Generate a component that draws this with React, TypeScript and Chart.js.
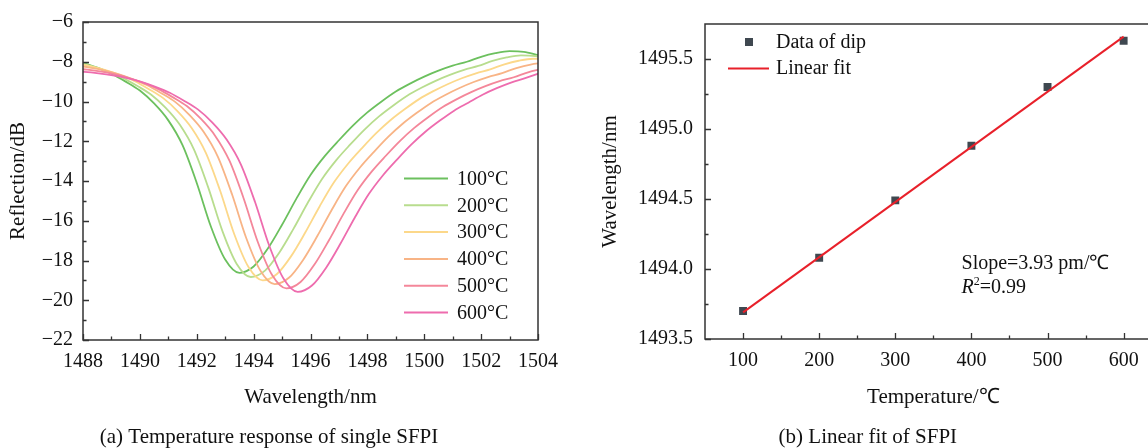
import React, { useEffect, useRef } from 'react';
import { Chart, registerables } from 'chart.js';

Chart.register(...registerables);

const FONT = '"Liberation Serif", "Times New Roman", serif';
const INK = '#111111';

// ---------- Panel (a): Temperature response of single SFPI ----------
const seriesLabels = ['100°C', '200°C', '300°C', '400°C', '500°C', '600°C'];
const seriesColors = ['#6cc05e', '#b8dd8e', '#fcd88a', '#f8b486', '#f4879a', '#ee6cae'];

const wl100 = [1488, 1488.5, 1489, 1489.5, 1490, 1490.5, 1491, 1491.5, 1492, 1492.5, 1493, 1493.5, 1494, 1494.5, 1495, 1495.5, 1496, 1496.5, 1497, 1497.5, 1498, 1498.5, 1499, 1499.5, 1500, 1500.5, 1501, 1501.5, 1502, 1502.5, 1503, 1503.5, 1504];
const db100 = [-8.05, -8.3, -8.6, -9.0, -9.45, -10.1, -10.95, -12.2, -14.1, -16.3, -17.95, -18.62, -18.3, -17.4, -16.2, -14.9, -13.7, -12.75, -11.95, -11.2, -10.55, -10.0, -9.5, -9.1, -8.75, -8.45, -8.2, -8.0, -7.75, -7.57, -7.47, -7.5, -7.67];

const wl200 = [1487.9, 1488.4, 1488.9, 1489.4, 1489.9, 1490.4, 1490.9, 1491.4, 1491.9, 1492.4, 1492.9, 1493.4, 1493.9, 1494.4, 1494.9, 1495.4, 1495.9, 1496.4, 1496.9, 1497.4, 1497.9, 1498.4, 1498.9, 1499.4, 1499.9, 1500.4, 1500.9, 1501.4, 1501.9, 1502.4, 1502.9, 1503.4, 1503.9, 1504.4];
const db200 = [-8.07, -8.26, -8.51, -8.81, -9.21, -9.66, -10.31, -11.16, -12.41, -14.31, -16.51, -18.16, -18.83, -18.51, -17.61, -16.41, -15.11, -13.91, -12.96, -12.16, -11.41, -10.76, -10.21, -9.71, -9.31, -8.96, -8.66, -8.41, -8.21, -7.96, -7.78, -7.68, -7.71, -7.88];

const wl300 = [1487.82, 1488.32, 1488.82, 1489.32, 1489.82, 1490.32, 1490.82, 1491.32, 1491.82, 1492.32, 1492.82, 1493.32, 1493.82, 1494.32, 1494.82, 1495.32, 1495.82, 1496.32, 1496.82, 1497.32, 1497.82, 1498.32, 1498.82, 1499.32, 1499.82, 1500.32, 1500.82, 1501.32, 1501.82, 1502.32, 1502.82, 1503.32, 1503.82, 1504.32];
const db300 = [-8.1, -8.24, -8.43, -8.68, -8.98, -9.38, -9.83, -10.48, -11.33, -12.58, -14.48, -16.68, -18.33, -19.0, -18.68, -17.78, -16.58, -15.28, -14.08, -13.13, -12.33, -11.58, -10.93, -10.38, -9.88, -9.48, -9.13, -8.83, -8.58, -8.38, -8.13, -7.95, -7.85, -7.88];

const wl400 = [1487.74, 1488.24, 1488.74, 1489.24, 1489.74, 1490.24, 1490.74, 1491.24, 1491.74, 1492.24, 1492.74, 1493.24, 1493.74, 1494.24, 1494.74, 1495.24, 1495.74, 1496.24, 1496.74, 1497.24, 1497.74, 1498.24, 1498.74, 1499.24, 1499.74, 1500.24, 1500.74, 1501.24, 1501.74, 1502.24, 1502.74, 1503.24, 1503.74, 1504.24];
const db400 = [-8.19, -8.29, -8.43, -8.62, -8.87, -9.17, -9.57, -10.02, -10.67, -11.52, -12.77, -14.67, -16.87, -18.52, -19.19, -18.87, -17.97, -16.77, -15.47, -14.27, -13.32, -12.52, -11.77, -11.12, -10.57, -10.07, -9.67, -9.32, -9.02, -8.77, -8.57, -8.32, -8.14, -8.04];

const wl500 = [1487.65, 1488.15, 1488.65, 1489.15, 1489.65, 1490.15, 1490.65, 1491.15, 1491.65, 1492.15, 1492.65, 1493.15, 1493.65, 1494.15, 1494.65, 1495.15, 1495.65, 1496.15, 1496.65, 1497.15, 1497.65, 1498.15, 1498.65, 1499.15, 1499.65, 1500.15, 1500.65, 1501.15, 1501.65, 1502.15, 1502.65, 1503.15, 1503.65, 1504.15];
const db500 = [-8.33, -8.4, -8.5, -8.64, -8.83, -9.08, -9.38, -9.78, -10.23, -10.88, -11.73, -12.98, -14.88, -17.08, -18.73, -19.4, -19.08, -18.18, -16.98, -15.68, -14.48, -13.53, -12.73, -11.98, -11.33, -10.78, -10.28, -9.88, -9.53, -9.23, -8.98, -8.78, -8.53, -8.35];

const wl600 = [1487.55, 1488.05, 1488.55, 1489.05, 1489.55, 1490.05, 1490.55, 1491.05, 1491.55, 1492.05, 1492.55, 1493.05, 1493.55, 1494.05, 1494.55, 1495.05, 1495.55, 1496.05, 1496.55, 1497.05, 1497.55, 1498.05, 1498.55, 1499.05, 1499.55, 1500.05, 1500.55, 1501.05, 1501.55, 1502.05, 1502.55, 1503.05, 1503.55, 1504.05];
const db600 = [-8.48, -8.51, -8.58, -8.68, -8.82, -9.01, -9.26, -9.56, -9.96, -10.41, -11.06, -11.91, -13.16, -15.06, -17.26, -18.91, -19.58, -19.26, -18.36, -17.16, -15.86, -14.66, -13.71, -12.91, -12.16, -11.51, -10.96, -10.46, -10.06, -9.66, -9.33, -9.05, -8.82, -8.58];

const wavelengthSeries = [wl100, wl200, wl300, wl400, wl500, wl600];
const reflectionSeries = [db100, db200, db300, db400, db500, db600];

const wavelengthTicks = [1488, 1490, 1492, 1494, 1496, 1498, 1500, 1502, 1504];
const wavelengthMinorTicks = [1489, 1491, 1493, 1495, 1497, 1499, 1501, 1503];
const reflectionTicks = [-22, -20, -18, -16, -14, -12, -10, -8, -6];
const reflectionMinorTicks = [-21, -19, -17, -15, -13, -11, -9, -7];

// ---------- Panel (b): Linear fit of SFPI ----------
const temperatures = [100, 200, 300, 400, 500, 600];
const dipWavelengths = [1493.7, 1494.08, 1494.49, 1494.88, 1495.3, 1495.63];
const fitTemperatures = [100, 600];
const fitWavelengths = [1493.69, 1495.66];

const temperatureTicks = [100, 200, 300, 400, 500, 600];
const temperatureMinorTicks = [150, 250, 350, 450, 550];
const dipTicks = [1493.5, 1494.0, 1494.5, 1495.0, 1495.5];
const dipMinorTicks = [1493.75, 1494.25, 1494.75, 1495.25];

const slopeText = 'Slope=3.93 pm/℃';
const r2Value = '=0.99';

// ---------- plugins ----------
const framePlugin = {
  id: 'frame',
  afterDatasetsDraw(chart: any, _args: any, opts: any) {
    const { ctx, chartArea: a, scales } = chart;
    const xs = scales.x;
    const ys = scales.y;
    ctx.save();
    ctx.strokeStyle = '#333333';
    ctx.lineWidth = 1.5;
    ctx.strokeRect(a.left, a.top, a.right - a.left, a.bottom - a.top);
    ctx.beginPath();
    for (const t of xs.ticks) {
      const p = Math.round(xs.getPixelForValue(t.value)) + 0.5;
      ctx.moveTo(p, a.bottom);
      ctx.lineTo(p, a.bottom - 6);
    }
    for (const v of opts.xMinor || []) {
      const p = Math.round(xs.getPixelForValue(v)) + 0.5;
      ctx.moveTo(p, a.bottom);
      ctx.lineTo(p, a.bottom - 3.5);
    }
    for (const t of ys.ticks) {
      const p = Math.round(ys.getPixelForValue(t.value)) + 0.5;
      ctx.moveTo(a.left, p);
      ctx.lineTo(a.left + 6, p);
    }
    for (const v of opts.yMinor || []) {
      const p = Math.round(ys.getPixelForValue(v)) + 0.5;
      ctx.moveTo(a.left, p);
      ctx.lineTo(a.left + 3.5, p);
    }
    ctx.lineWidth = 1.3;
    ctx.stroke();
    ctx.restore();
  },
};

const leftLegendPlugin = {
  id: 'leftLegend',
  afterDraw(chart: any) {
    const { ctx, chartArea: a } = chart;
    ctx.save();
    ctx.font = `20px ${FONT}`;
    ctx.textBaseline = 'middle';
    ctx.textAlign = 'left';
    chart.data.datasets.forEach((ds: any, i: number) => {
      const y = a.top + 156.5 + i * 26.8;
      ctx.strokeStyle = ds.borderColor;
      ctx.lineWidth = 2;
      ctx.beginPath();
      ctx.moveTo(a.right - 134, y);
      ctx.lineTo(a.right - 90, y);
      ctx.stroke();
      ctx.fillStyle = INK;
      ctx.fillText(ds.label, a.right - 81, y + 1);
    });
    ctx.restore();
  },
};

const rightDecorPlugin = {
  id: 'rightDecor',
  afterDraw(chart: any) {
    const { ctx, chartArea: a, scales } = chart;
    const fit = chart.data.datasets[0];
    const pts = chart.data.datasets[1];
    ctx.save();
    ctx.font = `20px ${FONT}`;
    ctx.textBaseline = 'middle';
    ctx.textAlign = 'left';
    // legend: data of dip
    ctx.fillStyle = pts.backgroundColor;
    ctx.fillRect(a.left + 40, a.top + 14, 8, 8);
    ctx.fillStyle = INK;
    ctx.fillText(pts.label, a.left + 71, a.top + 19);
    // legend: linear fit
    ctx.strokeStyle = fit.borderColor;
    ctx.lineWidth = 2;
    ctx.beginPath();
    ctx.moveTo(a.left + 23, a.top + 44.5);
    ctx.lineTo(a.left + 64, a.top + 44.5);
    ctx.stroke();
    ctx.fillText(fit.label, a.left + 71, a.top + 45);
    // annotation
    const tx = scales.x.getPixelForValue(387);
    const y1 = scales.y.getPixelForValue(1494.04);
    const y2 = scales.y.getPixelForValue(1493.865);
    ctx.fillText(slopeText, tx, y1);
    ctx.font = `italic 20px ${FONT}`;
    ctx.fillText('R', tx, y2);
    const rw = ctx.measureText('R').width;
    ctx.font = `12px ${FONT}`;
    ctx.fillText('2', tx + rw, y2 - 6);
    const sw = ctx.measureText('2').width;
    ctx.font = `20px ${FONT}`;
    ctx.fillText(r2Value, tx + rw + sw, y2);
    ctx.restore();
  },
};

const tickFont = { family: FONT, size: 20 };
const titleFont = { family: FONT, size: 21 };

function leftConfig(): any {
  return {
    type: 'line',
    data: {
      datasets: seriesLabels.map((label, i) => ({
        label,
        data: wavelengthSeries[i].map((x, j) => ({ x, y: reflectionSeries[i][j] })),
        borderColor: seriesColors[i],
        backgroundColor: seriesColors[i],
        borderWidth: 1.8,
        pointRadius: 0,
        cubicInterpolationMode: 'monotone',
        fill: false,
        order: 5 - i,
      })),
    },
    options: {
      responsive: false,
      animation: false,
      devicePixelRatio: 1,
      layout: { padding: { left: 0, top: 21, right: 36, bottom: 0 } },
      scales: {
        x: {
          type: 'linear',
          min: 1488,
          max: 1504,
          afterBuildTicks: (s: any) => { s.ticks = wavelengthTicks.map((v) => ({ value: v })); },
          afterFit: (s: any) => { s.height = 81; },
          grid: { display: false, drawTicks: false },
          border: { display: false },
          ticks: { padding: 10, font: tickFont, color: INK, maxRotation: 0, autoSkip: false, callback: (v: any) => String(v) },
          title: { display: true, text: 'Wavelength/nm', font: titleFont, color: INK, padding: { top: 0, bottom: 11 } },
        },
        y: {
          type: 'linear',
          min: -22,
          max: -6,
          afterBuildTicks: (s: any) => { s.ticks = reflectionTicks.map((v) => ({ value: v })); },
          afterFit: (s: any) => { s.width = 83; },
          grid: { display: false, drawTicks: false },
          border: { display: false },
          ticks: { padding: 10, font: tickFont, color: INK, autoSkip: false, callback: (v: any) => (v < 0 ? '\u2212' + Math.abs(v) : String(v)) },
          title: { display: true, text: 'Reflection/dB', font: titleFont, color: INK, padding: { top: 6, bottom: 0 } },
        },
      },
      plugins: {
        legend: { display: false },
        tooltip: { enabled: false },
        title: {
          display: true,
          position: 'bottom',
          text: '(a) Temperature response of single SFPI',
          font: { family: FONT, size: 21, lineHeight: 1, weight: 'normal' },
          color: INK,
          padding: { top: 6, bottom: 0 },
        },
        frame: { xMinor: wavelengthMinorTicks, yMinor: reflectionMinorTicks },
      },
    },
    plugins: [framePlugin, leftLegendPlugin],
  };
}

function rightConfig(): any {
  return {
    type: 'scatter',
    data: {
      datasets: [
        {
          type: 'line',
          label: 'Linear fit',
          data: fitTemperatures.map((x, i) => ({ x, y: fitWavelengths[i] })),
          borderColor: '#e8202a',
          backgroundColor: '#e8202a',
          borderWidth: 2,
          pointRadius: 0,
          fill: false,
          order: 0,
        },
        {
          type: 'scatter',
          label: 'Data of dip',
          data: temperatures.map((x, i) => ({ x, y: dipWavelengths[i] })),
          pointStyle: 'rect',
          pointRadius: 5.6,
          backgroundColor: '#3f4850',
          borderColor: '#3f4850',
          borderWidth: 0,
          order: 1,
        },
      ],
    },
    options: {
      responsive: false,
      animation: false,
      devicePixelRatio: 1,
      layout: { padding: { left: 0, top: 21, right: 32.3, bottom: 0 } },
      scales: {
        x: {
          type: 'linear',
          min: 50,
          max: 650,
          afterBuildTicks: (s: any) => { s.ticks = temperatureTicks.map((v) => ({ value: v })); },
          afterFit: (s: any) => { s.height = 82; },
          grid: { display: false, drawTicks: false },
          border: { display: false },
          ticks: { padding: 10, font: tickFont, color: INK, maxRotation: 0, autoSkip: false, callback: (v: any) => String(v) },
          title: { display: true, text: 'Temperature/℃', font: titleFont, color: INK, padding: { top: 0, bottom: 11 } },
        },
        y: {
          type: 'linear',
          min: 1493.5,
          max: 1495.75,
          afterBuildTicks: (s: any) => { s.ticks = dipTicks.map((v) => ({ value: v })); },
          afterFit: (s: any) => { s.width = 131; },
          grid: { display: false, drawTicks: false },
          border: { display: false },
          ticks: { padding: 12, font: tickFont, color: INK, autoSkip: false, callback: (v: any) => Number(v).toFixed(1) },
          title: { display: true, text: 'Wavelength/nm', font: titleFont, color: INK, padding: { top: 24, bottom: 0 } },
        },
      },
      plugins: {
        legend: { display: false },
        tooltip: { enabled: false },
        title: {
          display: true,
          position: 'bottom',
          text: '(b) Linear fit of SFPI',
          font: { family: FONT, size: 21, lineHeight: 1, weight: 'normal' },
          color: INK,
          padding: { top: 6, bottom: 0 },
        },
        frame: { xMinor: temperatureMinorTicks, yMinor: dipMinorTicks },
      },
    },
    plugins: [framePlugin, rightDecorPlugin],
  };
}

export default function App() {
  const leftRef = useRef<HTMLCanvasElement>(null);
  const rightRef = useRef<HTMLCanvasElement>(null);

  useEffect(() => {
    const c1 = new Chart(leftRef.current as HTMLCanvasElement, leftConfig());
    const c2 = new Chart(rightRef.current as HTMLCanvasElement, rightConfig());
    return () => {
      c1.destroy();
      c2.destroy();
    };
  }, []);

  return (
    <div
      style={{
        position: 'fixed',
        left: 0,
        top: 0,
        width: 1148,
        height: 448,
        overflow: 'hidden',
        background: '#ffffff',
      }}
    >
      <canvas
        ref={leftRef}
        width={574}
        height={448}
        style={{ position: 'absolute', left: 0, top: 0, width: 574, height: 448 }}
      />
      <canvas
        ref={rightRef}
        width={620}
        height={448}
        style={{ position: 'absolute', left: 574, top: 0, width: 620, height: 448 }}
      />
    </div>
  );
}
